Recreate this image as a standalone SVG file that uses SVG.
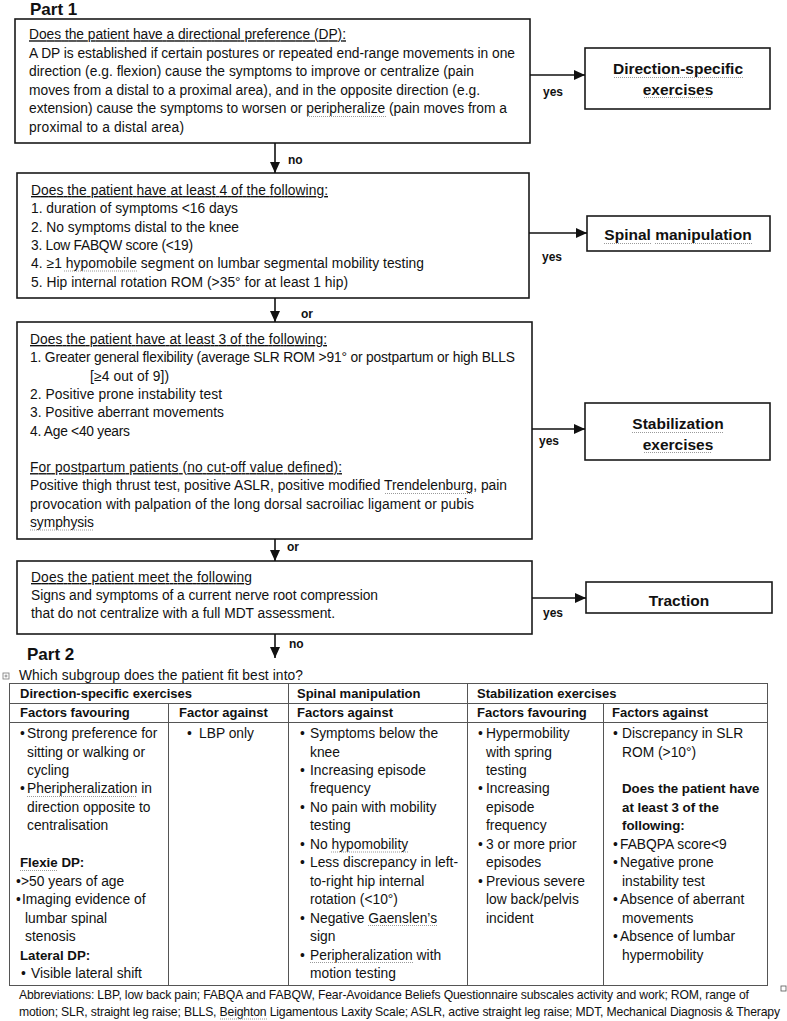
<svg xmlns="http://www.w3.org/2000/svg" width="787" height="1021" viewBox="0 0 787 1021">
<defs>
<style>
text{font-family:"Liberation Sans",Arial,sans-serif;fill:#111}
.t{font-size:13.8px}
.u{text-decoration:underline}
.bt{font-size:15.5px;font-weight:bold;text-anchor:middle}
.lb{font-size:12px;font-weight:bold}
.part{font-size:17px;font-weight:bold}
.th{font-size:13px;font-weight:bold}
.tb{font-size:13.3px;font-weight:bold}
.ft{font-size:12.2px}
.box{fill:#fff;stroke:#1a1a1a;stroke-width:1.6}
.con{stroke:#111;stroke-width:1.6;fill:none;marker-end:url(#ah)}
.grid{stroke:#555;stroke-width:1;fill:none}
.sq{stroke:#9a9a9a;stroke-width:1.1;stroke-dasharray:1 1;fill:none}
</style>
<marker id="ah" markerUnits="userSpaceOnUse" markerWidth="11" markerHeight="10" refX="11" refY="5" orient="auto">
<path d="M0,0 L11,5 L0,10 z" fill="#111"/>
</marker>
</defs>
<rect width="787" height="1021" fill="#fff"/>

<text class="part" x="30" y="15">Part 1</text>

<g id="q1">
<rect class="box" x="15" y="19" width="515" height="124"/>
<text class="t" x="29" y="39.3"><tspan class="u" textLength="317">Does the patient have a directional preference (DP):</tspan></text>
<text class="t" x="29" y="57.8" textLength="486">A DP is established if certain postures or repeated end-range movements in one</text>
<text class="t" x="29" y="76.3" textLength="445">direction (e.g. flexion) cause the symptoms to improve or centralize (pain</text>
<text class="t" x="29" y="94.8" textLength="451">moves from a distal to a proximal area), and in the opposite direction (e.g.</text>
<text class="t" x="29" y="113.3" textLength="478">extension) cause the symptoms to worsen or peripheralize (pain moves from a</text>
<text class="t" x="29" y="131.8" textLength="155">proximal to a distal area)</text>
</g>

<g id="r1">
<rect class="box" x="585" y="48" width="185" height="61"/>
<text class="bt" x="678" y="74">Direction-specific</text>
<text class="bt" x="678" y="95">exercises</text>
</g>

<g id="q2">
<rect class="box" x="17" y="173" width="512" height="125"/>
<text class="t" x="31" y="195"><tspan class="u" textLength="297">Does the patient have at least 4 of the following:</tspan></text>
<text class="t" x="31" y="213.3" textLength="207">1. duration of symptoms &lt;16 days</text>
<text class="t" x="31" y="231.6" textLength="208">2. No symptoms distal to the knee</text>
<text class="t" x="31" y="249.9" textLength="162">3. Low FABQW score (&lt;19)</text>
<text class="t" x="31" y="268.2" textLength="393">4. ≥1 hypomobile segment on lumbar segmental mobility testing</text>
<text class="t" x="31" y="286.5" textLength="317">5. Hip internal rotation ROM (&gt;35° for at least 1 hip)</text>
</g>

<g id="r2">
<rect class="box" x="587" y="216" width="183" height="35"/>
<text class="bt" x="678" y="240">Spinal manipulation</text>
</g>

<g id="q3">
<rect class="box" x="17" y="322" width="515" height="217"/>
<text class="t" x="30" y="344"><tspan class="u" textLength="297">Does the patient have at least 3 of the following:</tspan></text>
<text class="t" x="30" y="362.3" textLength="485">1. Greater general flexibility (average SLR ROM &gt;91° or postpartum or high BLLS</text>
<text class="t" x="90" y="380.6" textLength="79">[≥4 out of 9])</text>
<text class="t" x="30" y="398.9" textLength="192">2. Positive prone instability test</text>
<text class="t" x="30" y="417.2" textLength="194">3. Positive aberrant movements</text>
<text class="t" x="30" y="435.5" textLength="100">4. Age &lt;40 years</text>
<text class="t" x="30" y="472.1"><tspan class="u" textLength="312">For postpartum patients (no cut-off value defined):</tspan></text>
<text class="t" x="30" y="490.4" textLength="477">Positive thigh thrust test, positive ASLR, positive modified Trendelenburg, pain</text>
<text class="t" x="30" y="508.7" textLength="444">provocation with palpation of the long dorsal sacroiliac ligament or pubis</text>
<text class="t" x="30" y="527" textLength="64">symphysis</text>
</g>

<g id="r3">
<rect class="box" x="585" y="403" width="185" height="57"/>
<text class="bt" x="678" y="429">Stabilization</text>
<text class="bt" x="678" y="450">exercises</text>
</g>

<g id="q4">
<rect class="box" x="17" y="561" width="515" height="73"/>
<text class="t" x="31" y="582"><tspan class="u" textLength="221">Does the patient meet the following</tspan></text>
<text class="t" x="31" y="600" textLength="347">Signs and symptoms of a current nerve root compression</text>
<text class="t" x="31" y="618" textLength="304">that do not centralize with a full MDT assessment.</text>
</g>

<g id="r4">
<rect class="box" x="586" y="582" width="186" height="31"/>
<text class="bt" x="679" y="606">Traction</text>
</g>

<g id="connectors">
<line class="con" x1="530" y1="75" x2="585" y2="75"/>
<line class="con" x1="529" y1="233" x2="587" y2="233"/>
<line class="con" x1="532" y1="429" x2="585" y2="429"/>
<line class="con" x1="532" y1="598" x2="586" y2="598"/>
<line class="con" x1="275" y1="143" x2="275" y2="173"/>
<line class="con" x1="275" y1="298" x2="275" y2="322"/>
<line class="con" x1="275" y1="539" x2="275" y2="561"/>
<line class="con" x1="275" y1="634" x2="275" y2="658"/>
<text class="lb" x="543" y="96">yes</text>
<text class="lb" x="542" y="261">yes</text>
<text class="lb" x="539" y="445">yes</text>
<text class="lb" x="543" y="617">yes</text>
<text class="lb" x="288" y="164">no</text>
<text class="lb" x="301" y="318">or</text>
<text class="lb" x="287" y="551">or</text>
<text class="lb" x="289" y="648">no</text>
</g>

<text class="part" x="27" y="660">Part 2</text>

<g id="table">
<rect x="3" y="673" width="6" height="6" fill="none" stroke="#777" stroke-width="0.8"/>
<path d="M4.5,676 H7.5 M6,674.5 V677.5" stroke="#777" stroke-width="0.8"/>
<text class="t" x="19" y="680" textLength="284">Which subgroup does the patient fit best into?</text>
<path class="grid" d="M9,683.5 H768 M9,703.5 H768 M9,722.5 H768 M9,985.5 H768 M9.5,683 V985 M767.5,683 V985 M288.5,683 V985 M467.5,683 V985 M168.5,703 V985 M603.5,703 V985"/>
<rect x="781" y="986" width="5" height="5" fill="#fff" stroke="#555" stroke-width="0.8"/>
<text class="th" x="20" y="698">Direction-specific exercises</text>
<text class="th" x="297" y="698">Spinal manipulation</text>
<text class="th" x="477" y="698">Stabilization exercises</text>
<text class="th" x="20" y="717">Factors favouring</text>
<text class="th" x="179" y="717">Factor against</text>
<text class="th" x="297" y="717">Factors against</text>
<text class="th" x="477" y="717">Factors favouring</text>
<text class="th" x="612" y="717">Factors against</text>

<g id="col1">
<text class="t" x="20" y="738">•</text><text class="t" x="27" y="738">Strong preference for</text>
<text class="t" x="27" y="756.5">sitting or walking or</text>
<text class="t" x="27" y="775">cycling</text>
<text class="t" x="20" y="793.4">•</text><text class="t" x="27" y="793.4">Pheripheralization in</text>
<text class="t" x="27" y="811.8">direction opposite to</text>
<text class="t" x="27" y="830.3">centralisation</text>
<text class="tb" x="20" y="867.2">Flexie DP:</text>
<text class="t" x="16" y="885.7">•</text><text class="t" x="21" y="885.7">&gt;50 years of age</text>
<text class="t" x="16" y="904.1">•</text><text class="t" x="22" y="904.1">Imaging evidence of</text>
<text class="t" x="25" y="922.6">lumbar spinal</text>
<text class="t" x="25" y="941">stenosis</text>
<text class="tb" x="20" y="959.5">Lateral DP:</text>
<text class="t" x="21" y="978">•</text><text class="t" x="31" y="978">Visible lateral shift</text>
</g>

<g id="col2">
<text class="t" x="187" y="738">•</text><text class="t" x="199" y="738">LBP only</text>
</g>

<g id="col3">
<text class="t" x="300" y="738">•</text><text class="t" x="310" y="738">Symptoms below the</text>
<text class="t" x="310" y="756.5">knee</text>
<text class="t" x="300" y="775">•</text><text class="t" x="310" y="775">Increasing episode</text>
<text class="t" x="310" y="793.4">frequency</text>
<text class="t" x="300" y="811.8">•</text><text class="t" x="310" y="811.8">No pain with mobility</text>
<text class="t" x="310" y="830.3">testing</text>
<text class="t" x="300" y="848.8">•</text><text class="t" x="310" y="848.8">No hypomobility</text>
<text class="t" x="300" y="867.2">•</text><text class="t" x="310" y="867.2">Less discrepancy in left-</text>
<text class="t" x="310" y="885.7">to-right hip internal</text>
<text class="t" x="310" y="904.1">rotation (&lt;10°)</text>
<text class="t" x="300" y="922.6">•</text><text class="t" x="310" y="922.6">Negative Gaenslen’s</text>
<text class="t" x="310" y="941">sign</text>
<text class="t" x="300" y="959.5">•</text><text class="t" x="310" y="959.5">Peripheralization with</text>
<text class="t" x="310" y="978">motion testing</text>
</g>

<g id="col4">
<text class="t" x="478" y="738">•</text><text class="t" x="486" y="738">Hypermobility</text>
<text class="t" x="486" y="756.5">with spring</text>
<text class="t" x="486" y="775">testing</text>
<text class="t" x="478" y="793.4">•</text><text class="t" x="486" y="793.4">Increasing</text>
<text class="t" x="486" y="811.8">episode</text>
<text class="t" x="486" y="830.3">frequency</text>
<text class="t" x="478" y="848.8">•</text><text class="t" x="486" y="848.8">3 or more prior</text>
<text class="t" x="486" y="867.2">episodes</text>
<text class="t" x="478" y="885.7">•</text><text class="t" x="486" y="885.7">Previous severe</text>
<text class="t" x="486" y="904.1">low back/pelvis</text>
<text class="t" x="486" y="922.6">incident</text>
</g>

<g id="col5">
<text class="t" x="613" y="738">•</text><text class="t" x="622" y="738">Discrepancy in SLR</text>
<text class="t" x="622" y="756.5">ROM (&gt;10°)</text>
<text class="tb" x="622" y="793.4">Does the patient have</text>
<text class="tb" x="622" y="811.8">at least 3 of the</text>
<text class="tb" x="622" y="830.3">following:</text>
<text class="t" x="613" y="848.8">•</text><text class="t" x="620" y="848.8">FABQPA score&lt;9</text>
<text class="t" x="613" y="867.2">•</text><text class="t" x="620" y="867.2">Negative prone</text>
<text class="t" x="622" y="885.7">instability test</text>
<text class="t" x="613" y="904.1">•</text><text class="t" x="620" y="904.1">Absence of aberrant</text>
<text class="t" x="622" y="922.6">movements</text>
<text class="t" x="613" y="941">•</text><text class="t" x="620" y="941">Absence of lumbar</text>
<text class="t" x="622" y="959.5">hypermobility</text>
</g>
</g>

<text class="ft" x="19" y="999" textLength="730">Abbreviations: LBP, low back pain; FABQA and FABQW, Fear-Avoidance Beliefs Questionnaire subscales activity and work; ROM, range of</text>
<text class="ft" x="19" y="1016" textLength="761">motion; SLR, straight leg raise; BLLS, Beighton Ligamentous Laxity Scale; ASLR, active straight leg raise; MDT, Mechanical Diagnosis &amp; Therapy</text>

<g id="spelling-marks">
<path class="sq" d="M307,116.5 H386 M64,271 H137 M385,493.5 H473 M30,530 H94 M614,77.5 H743 M644,97.5 H712 M604,243.5 H651 M655,243.5 H752 M632,432.5 H724 M644,452.5 H712 M27,796.5 H137 M20,870.5 H58 M331,852 H408 M368,925.5 H437 M310,962.5 H413 M220,1019 H268"/>
</g>
</svg>
